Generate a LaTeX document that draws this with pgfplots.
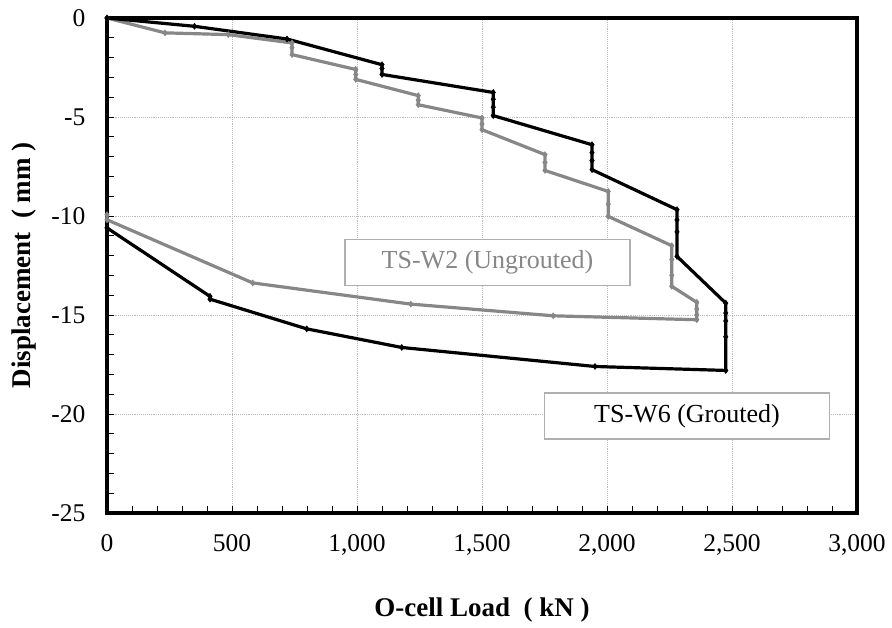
\documentclass[border=0pt]{standalone}
\usepackage{pgfplots}
\pgfplotsset{compat=1.18}
\usepackage{fontspec}
\setmainfont{Liberation Serif}
\definecolor{ungr}{RGB}{135,135,135}
\definecolor{boxc}{RGB}{175,175,175}
\begin{document}
\begin{tikzpicture}
\useasboundingbox (-107pt,-114pt) rectangle (785pt,513pt);
\begin{axis}[
  scale only axis,
  width=750pt, height=495pt,
  xmin=0, xmax=3000, ymin=-25, ymax=0,
  xtick={0,500,...,3000},
  ytick={-25,-20,...,0},
  minor x tick num=4,
  minor y tick num=4,
  tick pos=left,
  tick align=inside,
  major tick length=7pt,
  minor tick length=7pt,
  every tick/.style={black, line width=0.9pt},
  axis line style={line width=3.2pt},
  grid=major,
  grid style={gray!55, line width=0.9pt, densely dotted},
  /pgf/number format/assume math mode=true,
  /pgf/number format/1000 sep={,},
  ticklabel style={font=\fontsize{25.5}{28}\selectfont},
  xticklabel style={yshift=-18pt},
  yticklabel style={xshift=-18pt},
  xlabel={O-cell Load\ \ ( kN )},
  ylabel={Displacement\ \ ( mm )},
  xlabel style={font=\fontsize{27}{30}\selectfont\bfseries, at={(axis description cs:0.5,-0.196)}, anchor=center},
  ylabel style={font=\fontsize{27}{30}\selectfont\bfseries, at={(axis description cs:-0.111,0.5)}, anchor=center, rotate=0},
  clip=false,
]
% TS-W2 (Ungrouted)
\addplot[color=ungr, line width=3.2pt, mark=diamond*, mark size=3pt, mark options={solid, fill=ungr, line width=0.5pt}] coordinates {
(0,0) (232,-0.75) (485,-0.84) (740,-1.26) (740,-1.5) (740,-1.85)
(995,-2.6) (995,-2.85) (995,-3.1) (1245,-3.92) (1245,-4.15) (1245,-4.38)
(1500,-5.05) (1500,-5.35) (1500,-5.64) (1752,-6.9) (1752,-7.3) (1752,-7.7)
(2005,-8.76) (2005,-9.4) (2005,-10.02) (2259,-11.5) (2259,-12.2) (2259,-13.0) (2259,-13.55)
(2359,-14.36) (2359,-14.7) (2359,-15.0) (2359,-15.24)
(1785,-15.04) (1215,-14.45) (583,-13.38) (0,-10.19) (0,-9.93)
};
% TS-W6 (Grouted)
\addplot[color=black, line width=3.2pt, mark=diamond*, mark size=3pt, mark options={solid, fill=black, line width=0.5pt}] coordinates {
(0,0) (350,-0.42) (720,-1.06) (1100,-2.36) (1100,-2.55) (1100,-2.85)
(1545,-3.76) (1545,-4.1) (1545,-4.5) (1545,-4.93)
(1940,-6.4) (1940,-6.8) (1940,-7.2) (1940,-7.66)
(2280,-9.68) (2280,-10.2) (2280,-10.8) (2280,-12.04)
(2475,-14.4) (2475,-14.9) (2475,-15.3) (2475,-16.1) (2475,-17.8)
(1952,-17.6) (1179,-16.64) (799,-15.7) (412,-14.2) (412,-14.06) (0,-10.6)
};
\node[draw=boxc, line width=1.2pt, fill=white, text=ungr, minimum width=285pt, minimum height=46pt, inner sep=0pt, font=\fontsize{26}{30}\selectfont] at (axis cs:1522,-12.36) {TS-W2 (Ungrouted)};
\node[draw=boxc, line width=1.2pt, fill=white, text=black, minimum width=285pt, minimum height=46pt, inner sep=0pt, font=\fontsize{26}{30}\selectfont] at (axis cs:2320,-20.1) {TS-W6 (Grouted)};
\end{axis}
\end{tikzpicture}
\end{document}
